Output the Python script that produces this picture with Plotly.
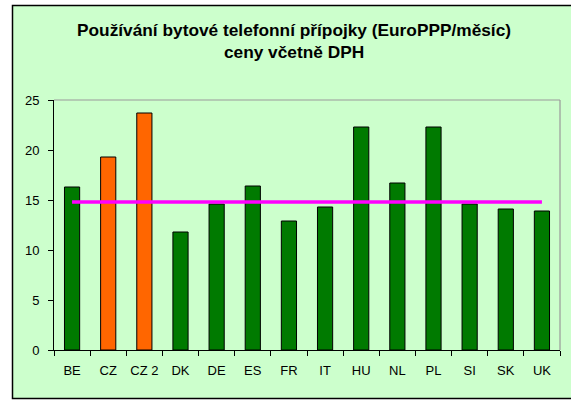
import plotly.graph_objects as go

categories = ["BE", "CZ", "CZ 2", "DK", "DE", "ES", "FR", "IT", "HU", "NL", "PL", "SI", "SK", "UK"]
values = [16.3, 19.3, 23.7, 11.8, 14.6, 16.4, 12.9, 14.3, 22.3, 16.7, 22.3, 14.6, 14.1, 13.9]
bar_colors = ["#007A00", "#FF6600", "#FF6600"] + ["#007A00"] * 11
average = [14.8] * len(categories)
y_ticks = [0, 5, 10, 15, 20, 25]

W, H = 571, 401
L, R, T, B = 54, 11, 100, 51
pw, ph = W - L - R, H - T - B

def px(x):
    return (x - L) / pw

def py(y):
    return (H - B - y) / ph

fig = go.Figure()
fig.add_trace(go.Bar(
    x=categories, y=values,
    marker=dict(color=bar_colors, line=dict(color="#000000", width=1)),
    width=0.42, showlegend=False, hoverinfo="x+y",
))
fig.add_trace(go.Scatter(
    x=categories, y=average, mode="lines",
    line=dict(color="#FF00FF", width=3.5), showlegend=False,
))

fig.update_layout(
    width=W, height=H,
    margin=dict(l=L, r=R, t=T, b=B, autoexpand=False),
    paper_bgcolor="#FFFFFF",
    plot_bgcolor="#FFFFFF",
    font=dict(family="Liberation Sans, Arial, sans-serif", size=13, color="#000000"),
    annotations=[dict(
        text="<b>Používání bytové telefonní přípojky (EuroPPP/měsíc)<br>ceny včetně DPH</b>",
        xref="paper", yref="paper", x=px(294), y=py(41), xanchor="center", yanchor="middle",
        showarrow=False, font=dict(size=17.3, color="#000000"), align="center",
    )],
    shapes=[
        dict(type="rect", xref="paper", yref="paper", x0=px(12.5), x1=px(580), y0=py(398.5), y1=py(5.5),
             fillcolor="#CCFFCC", line=dict(color="#000000", width=1.5), layer="below"),
        dict(type="line", xref="paper", yref="paper", x0=0, x1=1, y0=1, y1=1,
             line=dict(color="#999999", width=1.2), layer="above"),
        dict(type="line", xref="paper", yref="paper", x0=1, x1=1, y0=0, y1=1,
             line=dict(color="#999999", width=1.2), layer="above"),
    ],
)
fig.update_xaxes(
    type="category", showline=True, linecolor="#000000", linewidth=1,
    ticks="outside", tickson="boundaries", ticklen=5, tickcolor="#000000",
    showgrid=False, zeroline=False, ticklabelstandoff=8, tickangle=0, automargin=False,
    tickfont=dict(size=13),
)
fig.update_yaxes(
    range=[0, 25], tickvals=y_ticks, showline=True, linecolor="#000000", linewidth=1,
    ticks="outside", ticklen=5, tickcolor="#000000", showgrid=False, zeroline=False,
    ticklabelstandoff=6, automargin=False, tickfont=dict(size=13),
)

fig.write_html(
    "out.html",
    config={"displayModeBar": False},
    post_script="document.body.style.margin='0';document.body.style.overflow='hidden';",
)
